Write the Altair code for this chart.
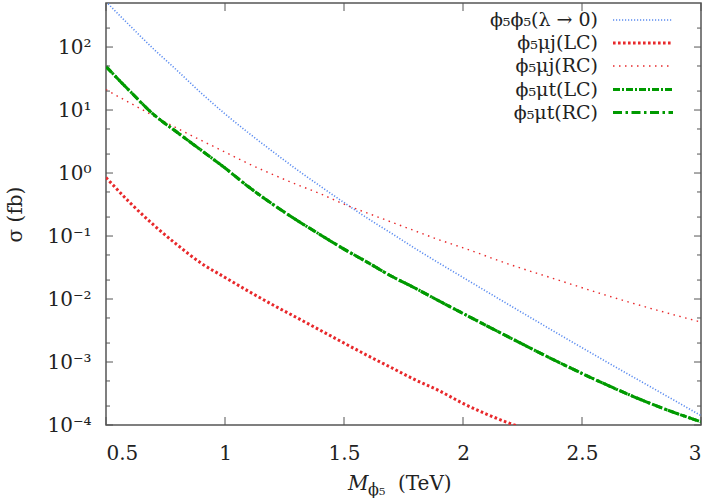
import altair as alt
import pandas as pd

# ---------------- data ----------------
mass = [0.5, 0.6, 0.7, 0.8, 0.9, 1.0, 1.1, 1.2, 1.3, 1.4, 1.5, 1.6, 1.7, 1.8, 1.9,
        2.0, 2.2, 2.4, 2.6, 2.8, 3.0]
phi5phi5 = [525, 219, 93, 42, 18.6, 8.7, 4.3, 2.2, 1.15, 0.62, 0.34, 0.19, 0.11,
            0.063, 0.037, 0.022, 0.0078, 0.0028, 0.00102, 0.00038, 0.000141]
muj_RC = [21, 13, 8.1, 5.1, 3.3, 2.15, 1.4, 0.95, 0.66, 0.47, 0.32, 0.23, 0.166,
          0.12, 0.087, 0.065, 0.035, 0.020, 0.0115, 0.0069, 0.0043]
mut_LC = [49, 20, 8.5, 4.4, 2.3, 1.2, 0.6, 0.32, 0.18, 0.105, 0.062, 0.038, 0.023,
          0.0148, 0.0093, 0.0059, 0.0024, 0.0010, 0.00044, 0.00021, 0.000112]
mut_RC = [49, 20, 8.5, 4.4, 2.3, 1.2, 0.6, 0.32, 0.18, 0.105, 0.062, 0.038, 0.023,
          0.0148, 0.0093, 0.0059, 0.0024, 0.0010, 0.00044, 0.00021, 0.000112]
mass_LC = [0.5, 0.6, 0.7, 0.8, 0.9, 1.0, 1.1, 1.2, 1.3, 1.4, 1.5, 1.6, 1.7, 1.8, 1.9,
           2.0, 2.1, 2.2, 2.25]
muj_LC = [0.85, 0.34, 0.15, 0.072, 0.037, 0.022, 0.0132, 0.0081, 0.0051, 0.0032,
          0.0020, 0.00126, 0.00081, 0.00052, 0.00035, 0.00022, 0.000148, 0.000105, 0.00009]

legend_labels = ["ϕ₅ϕ₅(λ → 0)", "ϕ₅μj(LC)", "ϕ₅μj(RC)", "ϕ₅μt(LC)", "ϕ₅μt(RC)"]
x_ticks = [0.5, 1.0, 1.5, 2.0, 2.5, 3.0]
y_major = [1e-4, 1e-3, 1e-2, 1e-1, 1e0, 1e1, 1e2]
y_minor = [2e-4, 5e-4, 2e-3, 5e-3, 2e-2, 5e-2, 2e-1, 5e-1, 2, 5, 20, 50, 200]

# ---------------- styling ----------------
W, H = 595, 422
FONT = "DejaVu Serif"
AX = "#555555"
BLUE = "#5b8cf0"
RED = "#e8282b"
GREEN = "#009a00"
TXT = "#222222"

xscale = alt.Scale(domain=[0.5, 3.0], nice=False, zero=False)
yscale = alt.Scale(type="log", domain=[1e-4, 500], nice=False)

sup = {-4: "⁻⁴", -3: "⁻³", -2: "⁻²", -1: "⁻¹", 0: "⁰", 1: "¹", 2: "²"}
parts = []
for e in sorted(sup, reverse=True):
    parts.append(f"datum.value > {10**e * 0.5} ? '10{sup[e]}'")
ylabel_expr = " : ".join(parts) + " : ''"

xaxis = alt.Axis(values=x_ticks, format="~g", ticks=False, domain=False, grid=False,
                 labelFont=FONT, labelFontSize=20, labelColor=TXT, labelPadding=18,
                 title=None)
yaxis = alt.Axis(values=y_major, labelExpr=ylabel_expr, ticks=False, domain=False,
                 grid=False, labelFont=FONT, labelFontSize=20, labelColor=TXT,
                 labelPadding=15, title="σ (fb)", titleFont=FONT, titleFontSize=20,
                 titleFontWeight="normal", titleColor=TXT, titleX=-91,
                 titleY=H / 2, titleAngle=-90, titleAlign="center", titleBaseline="middle")


def series(xs, ys, color, width, dash):
    df = pd.DataFrame({"M": xs, "sigma": ys})
    return alt.Chart(df).mark_line(color=color, strokeWidth=width, strokeDash=dash,
                                   clip=True, interpolate="monotone").encode(
        x=alt.X("M:Q", scale=xscale, axis=xaxis),
        y=alt.Y("sigma:Q", scale=yscale, axis=yaxis),
    )


styles = [
    (BLUE, 1.6, [1.2, 1.8]),
    (RED, 3.0, [2.6, 2.4]),
    (RED, 1.4, [1.5, 4.5]),
    (GREEN, 3.0, [7, 2, 2, 2]),
    (GREEN, 3.0, [9, 3.5, 2.5, 3.5]),
]

lines = [
    series(mass, phi5phi5, *styles[0]),
    series(mass_LC, muj_LC, *styles[1]),
    series(mass, muj_RC, *styles[2]),
    series(mass, mut_LC, *styles[3]),
    series(mass, mut_RC, *styles[4]),
]

# inward ticks drawn through the scales
ymaj = pd.DataFrame({"v": y_major})
ymin = pd.DataFrame({"v": y_minor})
xt = pd.DataFrame({"v": x_ticks})


def yticks(df, x0, x1):
    return alt.Chart(df).mark_rule(color=AX, strokeWidth=1).encode(
        y=alt.Y("v:Q", scale=yscale, axis=yaxis), x=alt.value(x0), x2=alt.value(x1))


def xticks(df, y0, y1):
    return alt.Chart(df).mark_rule(color=AX, strokeWidth=1).encode(
        x=alt.X("v:Q", scale=xscale, axis=xaxis), y=alt.value(y0), y2=alt.value(y1))


ticks = [
    yticks(ymaj, 0, 7), yticks(ymaj, W - 7, W),
    yticks(ymin, 0, 4), yticks(ymin, W - 4, W),
    xticks(xt, H, H - 8), xticks(xt, 0, 8),
]

# legend (labels on the left, samples on the right, inside plot)
rows_y = [17, 40, 63, 86.5, 109.5]
legend = []
for i, lab in enumerate(legend_labels):
    d = pd.DataFrame({"t": [lab]})
    c, w, dash = styles[i]
    legend.append(alt.Chart(d).mark_text(align="right", baseline="middle", font=FONT,
                                         fontSize=19, color=TXT).encode(
        x=alt.value(492), y=alt.value(rows_y[i]), text="t:N"))
    legend.append(alt.Chart(d).mark_rule(color=c, strokeWidth=w, strokeDash=dash).encode(
        x=alt.value(507), x2=alt.value(567), y=alt.value(rows_y[i])))

# x axis title  M_{phi5} (TeV)
tparts = pd.DataFrame({"t": ["M", "ϕ₅", "(TeV)"]})
xtitle = [
    alt.Chart(tparts.iloc[[0]]).mark_text(align="left", baseline="alphabetic", font=FONT,
                                          fontSize=20, fontStyle="italic", color=TXT).encode(
        x=alt.value(242), y=alt.value(487), text="t:N"),
    alt.Chart(tparts.iloc[[1]]).mark_text(align="left", baseline="alphabetic", font=FONT,
                                          fontSize=16, color=TXT).encode(
        x=alt.value(262), y=alt.value(492), text="t:N"),
    alt.Chart(tparts.iloc[[2]]).mark_text(align="left", baseline="alphabetic", font=FONT,
                                          fontSize=20, color=TXT).encode(
        x=alt.value(292), y=alt.value(487), text="t:N"),
]

chart = alt.layer(*lines, *ticks, *legend, *xtitle).properties(
    width=W, height=H,
    autosize=alt.AutoSizeParams(type="none"),
    padding={"left": 106, "top": 3, "right": 8, "bottom": 73},
    background="white",
).configure_view(stroke=AX, strokeWidth=1.5)

chart.save("out.html", embed_options={"renderer": "svg", "actions": False})
